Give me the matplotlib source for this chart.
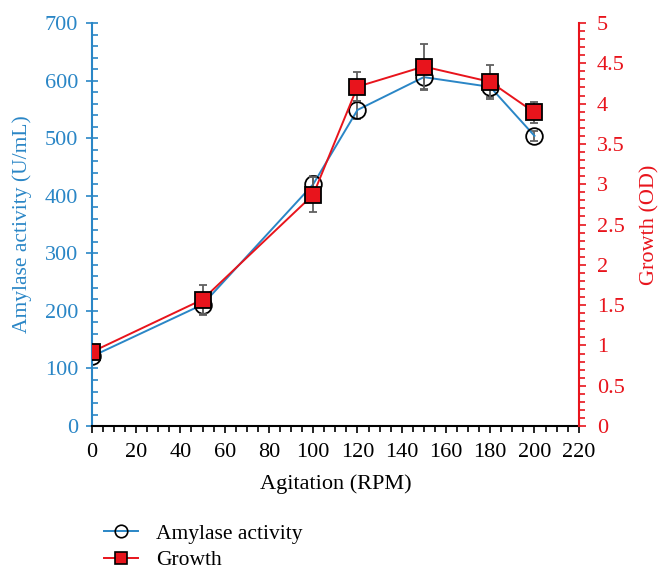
import matplotlib.pyplot as plt
from matplotlib.lines import Line2D
import numpy as np

rpm = [0, 50, 100, 120, 150, 180, 200]
amylase = [121, 211, 420, 549, 606, 589, 504]
amylase_err = [5, 18, 14, 16, 22, 18, 9]
growth = [0.92, 1.57, 2.87, 4.21, 4.46, 4.27, 3.89]
growth_err = [0.03, 0.18, 0.22, 0.18, 0.28, 0.21, 0.13]

blue = '#2a86c6'
red = '#e8141c'
serif = 'Liberation Serif'

plt.rcParams['font.family'] = serif

fig = plt.figure(figsize=(6.66, 5.75), dpi=100)
ax = fig.add_axes([0.138, 0.259, 0.731, 0.701])
ax2 = ax.twinx()

ax.errorbar(rpm, amylase, yerr=amylase_err, color=blue, lw=1.4, marker='o',
            ms=12, mfc='none', mec='black', mew=1.3, ecolor='#606060',
            elinewidth=1.3, capsize=3)
ax2.errorbar(rpm, growth, yerr=growth_err, color=red, lw=1.4, marker='s',
             ms=12, mfc=red, mec='black', mew=1.3, ecolor='#606060',
             elinewidth=1.3, capsize=3)

ax.set_xlim(0, 220)
ax.set_ylim(0, 700)
ax2.set_ylim(0, 5)
ax.set_xticks(np.arange(0, 221, 20))
ax.set_xticks(np.arange(0, 221, 5), minor=True)
ax.set_yticks(np.arange(0, 701, 100))
ax.set_yticks(np.arange(0, 701, 20), minor=True)
ax2.set_yticks(np.arange(0, 5.01, 0.5))
ax2.set_yticks(np.arange(0, 5.01, 0.1), minor=True)
ax2.set_yticklabels(['0', '0.5', '1', '1.5', '2', '2.5', '3', '3.5', '4', '4.5', '5'])

for a in (ax, ax2):
    a.spines['top'].set_visible(False)
ax.spines['left'].set_color(blue)
ax.spines['right'].set_visible(False)
ax2.spines['left'].set_visible(False)
ax2.spines['right'].set_color(red)
ax2.spines['bottom'].set_visible(False)
for s in ('left', 'bottom'):
    ax.spines[s].set_linewidth(1.5)
ax2.spines['right'].set_linewidth(1.5)

ax.tick_params(axis='x', which='major', direction='out', length=5, width=1.2,
               labelsize=16, pad=7)
ax.tick_params(axis='x', which='minor', direction='out', length=4, width=1.2)
ax.tick_params(axis='y', which='major', direction='inout', length=8, width=1.2,
               colors=blue, labelsize=16, pad=6)
ax.tick_params(axis='y', which='minor', direction='in', length=4, width=1.2,
               colors=blue)
ax2.tick_params(axis='y', which='major', direction='out', length=5, width=1.2,
                colors=red, labelsize=16, pad=8)
ax2.tick_params(axis='y', which='minor', direction='out', length=4, width=1.2,
                colors=red)

ax.set_xlabel('Agitation (RPM)', fontsize=16, labelpad=9)
ax.set_ylabel('Amylase activity (U/mL)', fontsize=15.5, color=blue, labelpad=9)
ax2.set_ylabel('Growth (OD)', fontsize=16, color=red, labelpad=11)

handles = [
    Line2D([], [], color=blue, lw=1.4, marker='o', ms=9, mfc='none',
           mec='black', mew=1.2),
    Line2D([], [], color=red, lw=1.4, marker='s', ms=9, mfc=red,
           mec='black', mew=1.2),
]
fig.legend(handles, ['Amylase activity', 'Growth'], loc='upper left',
           bbox_to_anchor=(0.14, 0.108), frameon=False, fontsize=15.5,
           handlelength=1.6, borderpad=0, labelspacing=0.3, handletextpad=0.8)

ax2.set_zorder(ax.get_zorder() + 1)
ax2.patch.set_visible(False)

fig.savefig('out.png', dpi=100)
